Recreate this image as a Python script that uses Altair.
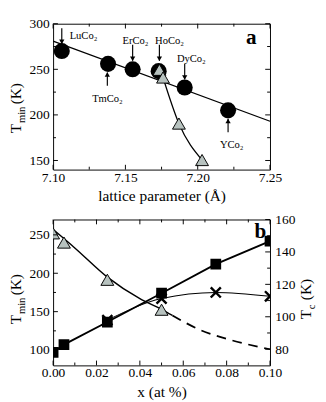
import altair as alt
import pandas as pd

FONT = "Liberation Serif"
W, H = 226, 152
TRI_FILL = "#b7c2bf"

# ---------------- panel a: T_min vs lattice parameter ----------------
compounds = ["LuCo₂", "TmCo₂", "ErCo₂", "HoCo₂", "DyCo₂", "YCo₂"]
lattice = [7.106, 7.138, 7.155, 7.173, 7.191, 7.221]
tmin_a = [270, 256, 250, 248, 230, 205]

fit_lat = [7.10, 7.25]
fit_tmin = [281, 193]

tri_lat = [7.1735, 7.176, 7.187, 7.203]
tri_tmin = [249.5, 241, 190.5, 150.5]
tcurve_lat = [7.176, 7.187, 7.203]
tcurve_tmin = [241, 190.5, 150.5]

label_lat = [7.121, 7.1376, 7.157, 7.1805, 7.1956, 7.2235]
label_tmin = [286.5, 217.5, 280.5, 280.5, 261.5, 166.5]
arrow_dir = ["down", "up", "down", "down", "down", "up"]
arrow_lat = [7.106, 7.1375, 7.155, 7.1735, 7.191, 7.221]
arrow_tail = [295, 232, 277, 277, 256, 181]
arrow_tip = [278, 246.5, 259.5, 259.5, 239, 195.5]

xa_major = [7.10, 7.15, 7.20, 7.25]
xa_minor = [7.125, 7.175, 7.225]
ya_major = [150, 200, 250, 300]
ya_minor = [175, 225, 275]

# ---------------- panel b: T_min / T_c vs x ----------------
x_sq = [0.0, 0.005, 0.025, 0.05, 0.075, 0.10]
t_sq = [97, 107, 136.5, 174, 212, 242]
x_tri = [0.0, 0.005, 0.025, 0.05]
t_tri = [252, 240, 191.5, 152.5]
x_cross = [0.025, 0.05, 0.075, 0.10]
t_cross = [139, 167, 175, 170]
fit_solid_x = [0.0, 0.01, 0.025, 0.04, 0.05, 0.055]
fit_solid_t = [257, 233, 195, 167, 153, 145]
fit_dash_x = [0.055, 0.068, 0.082, 0.10]
fit_dash_t = [145, 126, 113, 101]

xb_major = [0.0, 0.02, 0.04, 0.06, 0.08, 0.10]
xb_minor = [0.01, 0.03, 0.05, 0.07, 0.09]
yb_major = [100, 150, 200, 250]
yb_minor = [125, 175, 225]
yr_major = [80, 100, 120, 140, 160]
yr_minor = [90, 110, 130, 150]

MAJ, MIN = 5, 3


def df(**cols):
    return pd.DataFrame(cols)


def rot_text(txt, px, py, size):
    return alt.Chart(df(t=[txt])).mark_text(
        angle=270, align="left", baseline="alphabetic", font=FONT,
        fontSize=size, color="black"
    ).encode(text="t:N", x=alt.value(px), y=alt.value(py))


def tick_layers(vals, X, Y, orient, length):
    base = alt.Chart(df(v=vals)).mark_rule(color="black", strokeWidth=1)
    if orient == "x":
        return [
            base.encode(x=X("v"), y=alt.value(H), y2=alt.value(H - length)),
            base.encode(x=X("v"), y=alt.value(0), y2=alt.value(length)),
        ]
    if orient == "yleft":
        return [base.encode(y=Y("v"), x=alt.value(0), x2=alt.value(length))]
    if orient == "yright":
        return [base.encode(y=Y("v"), x=alt.value(W), x2=alt.value(W - length))]
    return [
        base.encode(y=Y("v"), x=alt.value(0), x2=alt.value(length)),
        base.encode(y=Y("v"), x=alt.value(W), x2=alt.value(W - length)),
    ]


# ---------- panel a ----------
xa_scale = alt.Scale(domain=[7.10, 7.25], nice=False, zero=False)
ya_scale = alt.Scale(domain=[140, 300], nice=False, zero=False)
xa_axis = alt.Axis(values=xa_major, format=".2f", title="lattice parameter (Å)",
                   labelPadding=1, titlePadding=4, labelFlush=False)
ya_axis = alt.Axis(values=ya_major, title=None, labelPadding=4, labelFlush=False)


def XA(f):
    return alt.X(f, type="quantitative", scale=xa_scale, axis=xa_axis)


def YA(f):
    return alt.Y(f, type="quantitative", scale=ya_scale, axis=ya_axis)


comp_df = df(lat=lattice, t=tmin_a, name=compounds, lx=label_lat, ly=label_tmin,
             ax=arrow_lat, tail=arrow_tail, tip=arrow_tip, dir=arrow_dir)

fit_a = alt.Chart(df(lat=fit_lat, t=fit_tmin)).mark_line(
    color="black", strokeWidth=1.3).encode(x=XA("lat"), y=YA("t"))
curve_a = alt.Chart(df(lat=tcurve_lat, t=tcurve_tmin)).mark_line(
    color="black", strokeWidth=1.3, interpolate="monotone").encode(x=XA("lat"), y=YA("t"))
circles = alt.Chart(comp_df).mark_point(
    shape="circle", filled=True, color="black", size=280, opacity=1
).encode(x=XA("lat"), y=YA("t"))
tris_a = alt.Chart(df(lat=tri_lat, t=tri_tmin)).mark_point(
    shape="triangle-up", filled=True, fill=TRI_FILL, stroke="black", strokeWidth=1,
    size=180, opacity=1
).encode(x=XA("lat"), y=YA("t"))
labels_a = alt.Chart(comp_df).mark_text(
    font=FONT, fontSize=11, color="black", align="center", baseline="middle"
).encode(x=XA("lx"), y=YA("ly"), text="name:N")
shafts = alt.Chart(comp_df).mark_rule(color="black", strokeWidth=1.2).encode(
    x=XA("ax"), y=YA("tail"), y2="tip")
heads_down = alt.Chart(comp_df).transform_filter(alt.datum.dir == "down").mark_point(
    shape="triangle-down", filled=True, color="black", size=30, opacity=1, yOffset=-2
).encode(x=XA("ax"), y=YA("tip"))
heads_up = alt.Chart(comp_df).transform_filter(alt.datum.dir == "up").mark_point(
    shape="triangle-up", filled=True, color="black", size=30, opacity=1, yOffset=2
).encode(x=XA("ax"), y=YA("tip"))
tag_a = alt.Chart(df(x=[7.237], y=[285], t=["a"])).mark_text(
    font=FONT, fontSize=22, fontWeight="bold", color="black", baseline="middle"
).encode(x=XA("x"), y=YA("y"), text="t:N")

ticks_a = (tick_layers(xa_major, XA, YA, "x", MAJ) + tick_layers(xa_minor, XA, YA, "x", MIN)
           + tick_layers(ya_major, XA, YA, "yboth", MAJ)
           + tick_layers(ya_minor, XA, YA, "yboth", MIN))

title_a = [rot_text("T", -33, 114, 16), rot_text("min", -29, 103.5, 11),
           rot_text("(K)", -33, 84, 16)]

panel_a = alt.layer(
    fit_a, curve_a, circles, tris_a, shafts, heads_down, heads_up, labels_a, tag_a,
    *ticks_a, *title_a
).properties(width=W, height=H)

# ---------- panel b ----------
xb_scale = alt.Scale(domain=[0, 0.10], nice=False, zero=False)
yb_scale = alt.Scale(domain=[80, 270], nice=False, zero=False)
yr_scale = alt.Scale(domain=[70, 160], nice=False, zero=False)
xb_axis = alt.Axis(values=xb_major, format=".2f", title="x (at %)",
                   labelPadding=1, titlePadding=4, labelFlush=False)
yb_axis = alt.Axis(values=yb_major, title=None, labelPadding=4, labelFlush=False)
yr_axis = alt.Axis(values=yr_major, title=None, labelPadding=5, orient="right",
                   labelFlush=False)


def XB(f):
    return alt.X(f, type="quantitative", scale=xb_scale, axis=xb_axis)


def YB(f):
    return alt.Y(f, type="quantitative", scale=yb_scale, axis=yb_axis)


def YR(f):
    return alt.Y(f, type="quantitative", scale=yr_scale, axis=yr_axis)


sq_line = alt.Chart(df(x=x_sq, t=t_sq)).mark_line(
    color="black", strokeWidth=2, clip=True).encode(x=XB("x"), y=YB("t"))
solid_b = alt.Chart(df(x=fit_solid_x, t=fit_solid_t)).mark_line(
    color="black", strokeWidth=1.5, interpolate="monotone", clip=True
).encode(x=XB("x"), y=YB("t"))
dash_b = alt.Chart(df(x=fit_dash_x, t=fit_dash_t)).mark_line(
    color="black", strokeWidth=1.8, strokeDash=[10, 7], interpolate="monotone", clip=True
).encode(x=XB("x"), y=YB("t"))
cross_line = alt.Chart(df(x=x_cross, t=t_cross)).mark_line(
    color="black", strokeWidth=1.1, interpolate="monotone", clip=True
).encode(x=XB("x"), y=YB("t"))
squares = alt.Chart(df(x=x_sq, t=t_sq)).mark_point(
    shape="square", filled=True, color="black", size=125, opacity=1, clip=True
).encode(x=XB("x"), y=YB("t"))
crosses = alt.Chart(df(x=x_cross, t=t_cross)).mark_point(
    shape="M-1,-1L1,1M-1,1L1,-1", filled=False, stroke="black", strokeWidth=2.5,
    size=110, opacity=1, clip=True
).encode(x=XB("x"), y=YB("t"))
tris_b = alt.Chart(df(x=x_tri, t=t_tri)).mark_point(
    shape="triangle-up", filled=True, fill=TRI_FILL, stroke="black", strokeWidth=1,
    size=180, opacity=1, clip=True
).encode(x=XB("x"), y=YB("t"))
tag_b = alt.Chart(df(x=[0.0955], y=[255], t=["b"])).mark_text(
    font=FONT, fontSize=22, fontWeight="bold", color="black", baseline="middle"
).encode(x=XB("x"), y=YB("y"), text="t:N")

ticks_b = (tick_layers(xb_major, XB, YB, "x", MAJ) + tick_layers(xb_minor, XB, YB, "x", MIN)
           + tick_layers(yb_major, XB, YB, "yleft", MAJ)
           + tick_layers(yb_minor, XB, YB, "yleft", MIN))
ticks_r = (tick_layers(yr_major, XB, YR, "yright", MAJ)
           + tick_layers(yr_minor, XB, YR, "yright", MIN))

title_b = [rot_text("T", -33, 109, 16), rot_text("min", -29, 98.5, 11),
           rot_text("(K)", -33, 79, 16),
           rot_text("T", W + 43, 104, 16), rot_text("c", W + 47, 93.5, 11),
           rot_text("(K)", W + 43, 84, 16)]

left_group = alt.layer(sq_line, solid_b, dash_b, cross_line, squares, crosses, tris_b,
                       tag_b, *ticks_b, *title_b)
right_group = alt.layer(*ticks_r)

panel_b = alt.layer(left_group, right_group).resolve_scale(y="independent").properties(
    width=W, height=H)

chart = alt.vconcat(panel_a, panel_b, spacing=8).properties(
    padding={"left": 0, "top": 0, "right": 0, "bottom": 0}
).configure_axis(
    labelFont=FONT, labelFontSize=14, labelColor="black",
    titleFont=FONT, titleFontSize=16, titleColor="black", titleFontWeight="normal",
    ticks=False, tickSize=0, domain=False, grid=False
).configure_view(stroke="black", strokeWidth=1)

chart.save("out.html", embed_options={"renderer": "svg", "actions": False})
